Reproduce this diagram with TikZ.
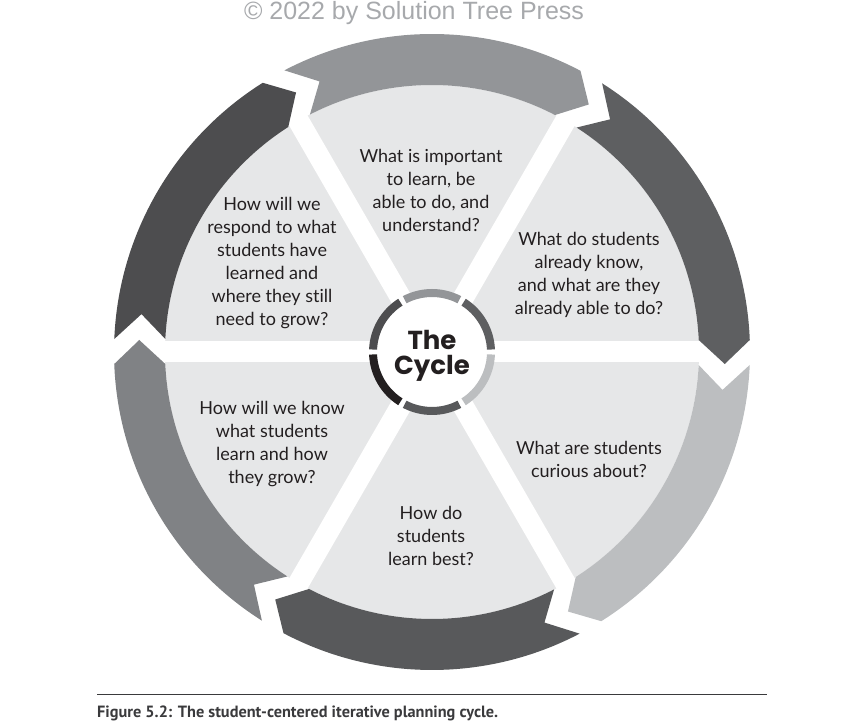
\documentclass[tikz,border=0pt]{standalone}
\usepackage{fontspec}
\setmainfont{Lato}[Ligatures=NoCommon]
\newfontfamily\titlefont{Poppins}
\newfontfamily\capfont{PT Sans}
\newfontfamily\notefont{Liberation Sans}

\definecolor{pielight}{HTML}{E6E7E8}
\definecolor{bandA}{HTML}{939598}
\definecolor{bandB}{HTML}{5E5F61}
\definecolor{bandC}{HTML}{BCBEC0}
\definecolor{bandD}{HTML}{58595B}
\definecolor{bandE}{HTML}{808285}
\definecolor{bandF}{HTML}{4D4D4F}
\definecolor{ringdark}{HTML}{231F20}
\definecolor{inkdark}{HTML}{231F20}
\definecolor{notegray}{HTML}{A7A9AC}
\definecolor{capgray}{HTML}{3A3A3C}

\begin{document}
\begin{tikzpicture}[x=1pt, y=1pt,
    every node/.style={inner sep=0pt, text=inkdark},
    question/.style={align=center, font=\fontsize{18}{23}\selectfont},
    hubtext/.style={align=center, font=\titlefont\bfseries\fontsize{26}{25}\selectfont},
    spoke/.style={white, line width=21pt},
    notice/.style={font=\notefont\fontsize{25}{28}\selectfont, text=notegray},
    caption/.style={anchor=west, font=\capfont\bfseries\fontsize{16.3}{20}\selectfont, text=capgray}
  ]
  \useasboundingbox (0,0) rectangle (858,727);
  \coordinate (hub) at (432,375);

  \begin{scope}[shift={(hub)}]
    % light pie cut by white spokes
    \fill[pielight] (0,0) circle (267);
    \foreach \a in {0,60,...,300}
      \draw[spoke] (0,0) -- (\a:270);

    % outer arrows, clockwise: tail at \a, head at \a-60
    \foreach \a/\col in {120/bandA, 60/bandB, 0/bandC, -60/bandD, -120/bandE, 180/bandF} {
      \pgfmathsetmacro{\b}{\a-60}
      \fill[\col] (\a-2.34:318) arc[start angle=\a-2.34, end angle=\b+2.16, radius=318]
        -- (\b-2.35:293) -- (\b+2.57:267)
        arc[start angle=\b+2.57, end angle=\a-2.79, radius=267]
        -- (\a-7.43:293) -- cycle;
    }

    % hub ring
    \fill[white] (0,0) circle (55);
    \foreach \a/\col in {0/bandB, 60/bandA, 120/bandF, 180/ringdark, 240/bandD, 300/bandC}
      \fill[\col] (\a+2.4:63) arc[start angle=\a+2.4, end angle=\a+57.6, radius=63]
        -- (\a+57.6:55) arc[start angle=\a+57.6, end angle=\a+2.4, radius=55] -- cycle;
  \end{scope}

  \node[hubtext] (cycle) at (432,371) {The\\Cycle};

  \node[question] (learn) at (431,537) {What is important\\to learn, be\\able to do, and\\understand?};
  \node[question] (know) at (589,452) {What do students\\already know,\\and what are they\\already able to do?};
  \node[question] (curious) at (589,268) {What are students\\curious about?};
  \node[question] (best) at (431,191) {How do\\students\\learn best?};
  \node[question] (grow) at (272,283) {How will we know\\what students\\learn and how\\they grow?};
  \node[question] (respond) at (272,464) {How will we\\respond to what\\students have\\learned and\\where they still\\need to grow?};

  \node[notice] (press) at (414,714) {© 2022 by Solution Tree Press};

  \coordinate (ruleL) at (97,32);
  \coordinate (ruleR) at (767,32);
  \draw[capgray, line width=1pt] (ruleL) -- (ruleR);
  \node[caption] (figcap) at (97,14) {Figure 5.2: The student-centered iterative planning cycle.};
\end{tikzpicture}
\end{document}
